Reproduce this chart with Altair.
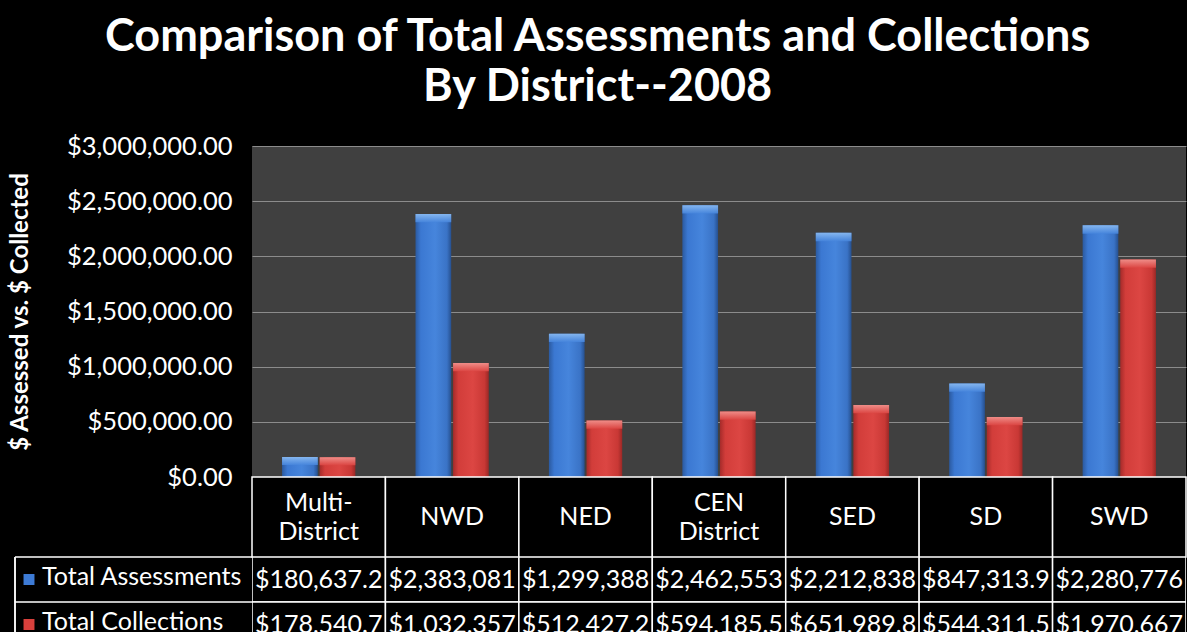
import altair as alt
import pandas as pd

# ---- data ----
districts = ["Multi-District", "NWD", "NED", "CEN District", "SED", "SD", "SWD"]
header_labels = ["Multi-|District", "NWD", "NED", "CEN|District", "SED", "SD", "SWD"]
series = ["Total Assessments", "Total Collections"]
assessments = [180637.2, 2383081, 1299388, 2462553, 2212838, 847313.9, 2280776]
collections = [178540.7, 1032357, 512427.2, 594185.5, 651989.8, 544311.5, 1970667]
y_ticks = [0, 500000, 1000000, 1500000, 2000000, 2500000, 3000000]

rows = []
for d, a, c in zip(districts, assessments, collections):
    rows.append({"district": d, "series": series[0], "value": a})
    rows.append({"district": d, "series": series[1], "value": c})
df = pd.DataFrame(rows)
hdf = pd.DataFrame({"district": districts, "label": header_labels})
ldf = pd.DataFrame({"series": series})

PLOT_W = 934
PLOT_H = 331
HEAD_H = 80
DATA_H = 76
ROWS_RANGE = 90
FONT = "Lato"
CAP = 75000  # depth of the lighter bevel at each bar's top, in data units


def hgrad(c0, c1, c2, c3, c4):
    return {
        "gradient": "linear", "x1": 0, "x2": 1, "y1": 0, "y2": 0,
        "stops": [
            {"offset": 0, "color": c0},
            {"offset": 0.15, "color": c1},
            {"offset": 0.55, "color": c2},
            {"offset": 0.88, "color": c3},
            {"offset": 1, "color": c4},
        ],
    }


def vgrad(top, bottom):
    return {
        "gradient": "linear", "x1": 0, "x2": 0, "y1": 0, "y2": 1,
        "stops": [{"offset": 0, "color": top}, {"offset": 1, "color": bottom}],
    }


blue_grad = hgrad("#2b5aa0", "#3b78d2", "#4685dc", "#3a73c6", "#26508f")
red_grad = hgrad("#a52b2a", "#d23d3a", "#dc4643", "#c93835", "#9a2826")
blue_cap = vgrad("#8cbcf2", "#4685dc")
red_cap = vgrad("#f29590", "#dc4643")

x_scale = alt.Scale(domain=districts, paddingInner=0, paddingOuter=0)
y_scale = alt.Scale(domain=[0, 3000000])
xoff = alt.XOffset("series:N", scale=alt.Scale(domain=series, paddingInner=0.05, paddingOuter=0.8))

# ---- bar chart ----
base = alt.Chart(df).encode(
    x=alt.X("district:N", scale=x_scale, sort=districts, axis=None),
    xOffset=xoff,
    y=alt.Y(
        "value:Q",
        scale=y_scale,
        axis=alt.Axis(
            values=y_ticks, format="$,.2f", title="$ Assessed vs. $ Collected",
            labelFont=FONT, labelFontSize=25.5, labelColor="white", labelPadding=20,
            ticks=False, domain=False, grid=True, gridColor="#8c8c8c", gridWidth=1,
            titleFont=FONT, titleFontSize=24, titleFontWeight="bold", titleColor="white",
            titlePadding=34,
        ),
    ),
)
blue = base.transform_filter(alt.datum.series == series[0]).mark_bar(color=blue_grad)
red = base.transform_filter(alt.datum.series == series[1]).mark_bar(color=red_grad)

cap_base = alt.Chart(df).transform_calculate(
    cap_low="max(datum.value - %d, datum.value * 0.6)" % CAP
).encode(
    x=alt.X("district:N", scale=x_scale, sort=districts, axis=None),
    xOffset=xoff,
    y=alt.Y("value:Q", scale=y_scale),
    y2="cap_low:Q",
)
blue_top = cap_base.transform_filter(alt.datum.series == series[0]).mark_bar(color=blue_cap, opacity=0.9)
red_top = cap_base.transform_filter(alt.datum.series == series[1]).mark_bar(color=red_cap, opacity=0.9)

bars = alt.layer(blue, red, blue_top, red_top).properties(
    width=PLOT_W, height=PLOT_H, view=alt.ViewBackground(fill="#404040", stroke=None)
)

# ---- header row (category labels) ----
hbase = alt.Chart(hdf).encode(x=alt.X("district:N", scale=x_scale, sort=districts, axis=None))
htext = dict(lineBreak="|", color="white", font=FONT, fontSize=25, lineHeight=29)
header = alt.layer(
    hbase.mark_rect(fill="black", stroke="white", strokeWidth=1.5),
    hbase.transform_filter("indexof(datum.label, '|') < 0").mark_text(**htext).encode(text="label:N"),
    hbase.transform_filter("indexof(datum.label, '|') >= 0").mark_text(dy=-14.5, **htext).encode(text="label:N"),
).properties(width=PLOT_W, height=HEAD_H, view=alt.ViewBackground(fill="black", stroke=None))

# ---- data rows ----
y_rows = alt.Scale(domain=series, range=[0, ROWS_RANGE], paddingInner=0, paddingOuter=0)
dbase = alt.Chart(df).transform_calculate(
    text="datum.value >= 1000000 ? format(datum.value, '$,.0f') : format(datum.value, '$,.1f')"
).encode(
    x=alt.X("district:N", scale=x_scale, sort=districts, axis=None),
    y=alt.Y("series:N", scale=y_rows, axis=None),
)
cells = dbase.mark_rect(fill="black", stroke="white", strokeWidth=1.5, clip=True)
vals = dbase.mark_text(color="white", font=FONT, fontSize=25, clip=True).encode(text="text:N")

lbase = alt.Chart(ldf)
leg_text = lbase.mark_text(align="left", color="white", font=FONT, fontSize=25, dy=-3).encode(
    x=alt.value(-210), y=alt.Y("series:N", scale=y_rows, axis=None), text="series:N"
)
leg_sq = lbase.mark_square(size=120, opacity=1, filled=True, dy=-3).encode(
    x=alt.value(-223),
    y=alt.Y("series:N", scale=y_rows, axis=None),
    color=alt.Color("series:N", scale=alt.Scale(domain=series, range=["#3d7bd6", "#d8403c"]), legend=None),
)
leg_hrules = lbase.mark_rule(color="white", strokeWidth=1.5).encode(
    x=alt.value(-237), x2=alt.value(0), y=alt.Y("series:N", scale=y_rows, axis=None, bandPosition=0)
)
leg_vrule = lbase.mark_rule(color="white", strokeWidth=1.5).encode(
    x=alt.value(-237), y=alt.value(0), y2=alt.value(DATA_H)
)
data = alt.layer(cells, vals, leg_hrules, leg_vrule, leg_sq, leg_text).properties(
    width=PLOT_W, height=DATA_H, view=alt.ViewBackground(fill="black", stroke=None)
)

chart = alt.vconcat(bars, header, data, spacing=0, bounds="flush").properties(
    title=alt.TitleParams(
        ["Comparison of Total Assessments and Collections", "By District--2008"],
        color="white", font=FONT, fontSize=45, fontWeight="bold", lineHeight=50,
        anchor="middle", offset=24,
    ),
    padding={"left": 8, "top": 15, "right": 0, "bottom": 0},
    background="black",
).configure_view(stroke=None)

chart.save("out.html", embed_options={"renderer": "svg", "actions": False})
